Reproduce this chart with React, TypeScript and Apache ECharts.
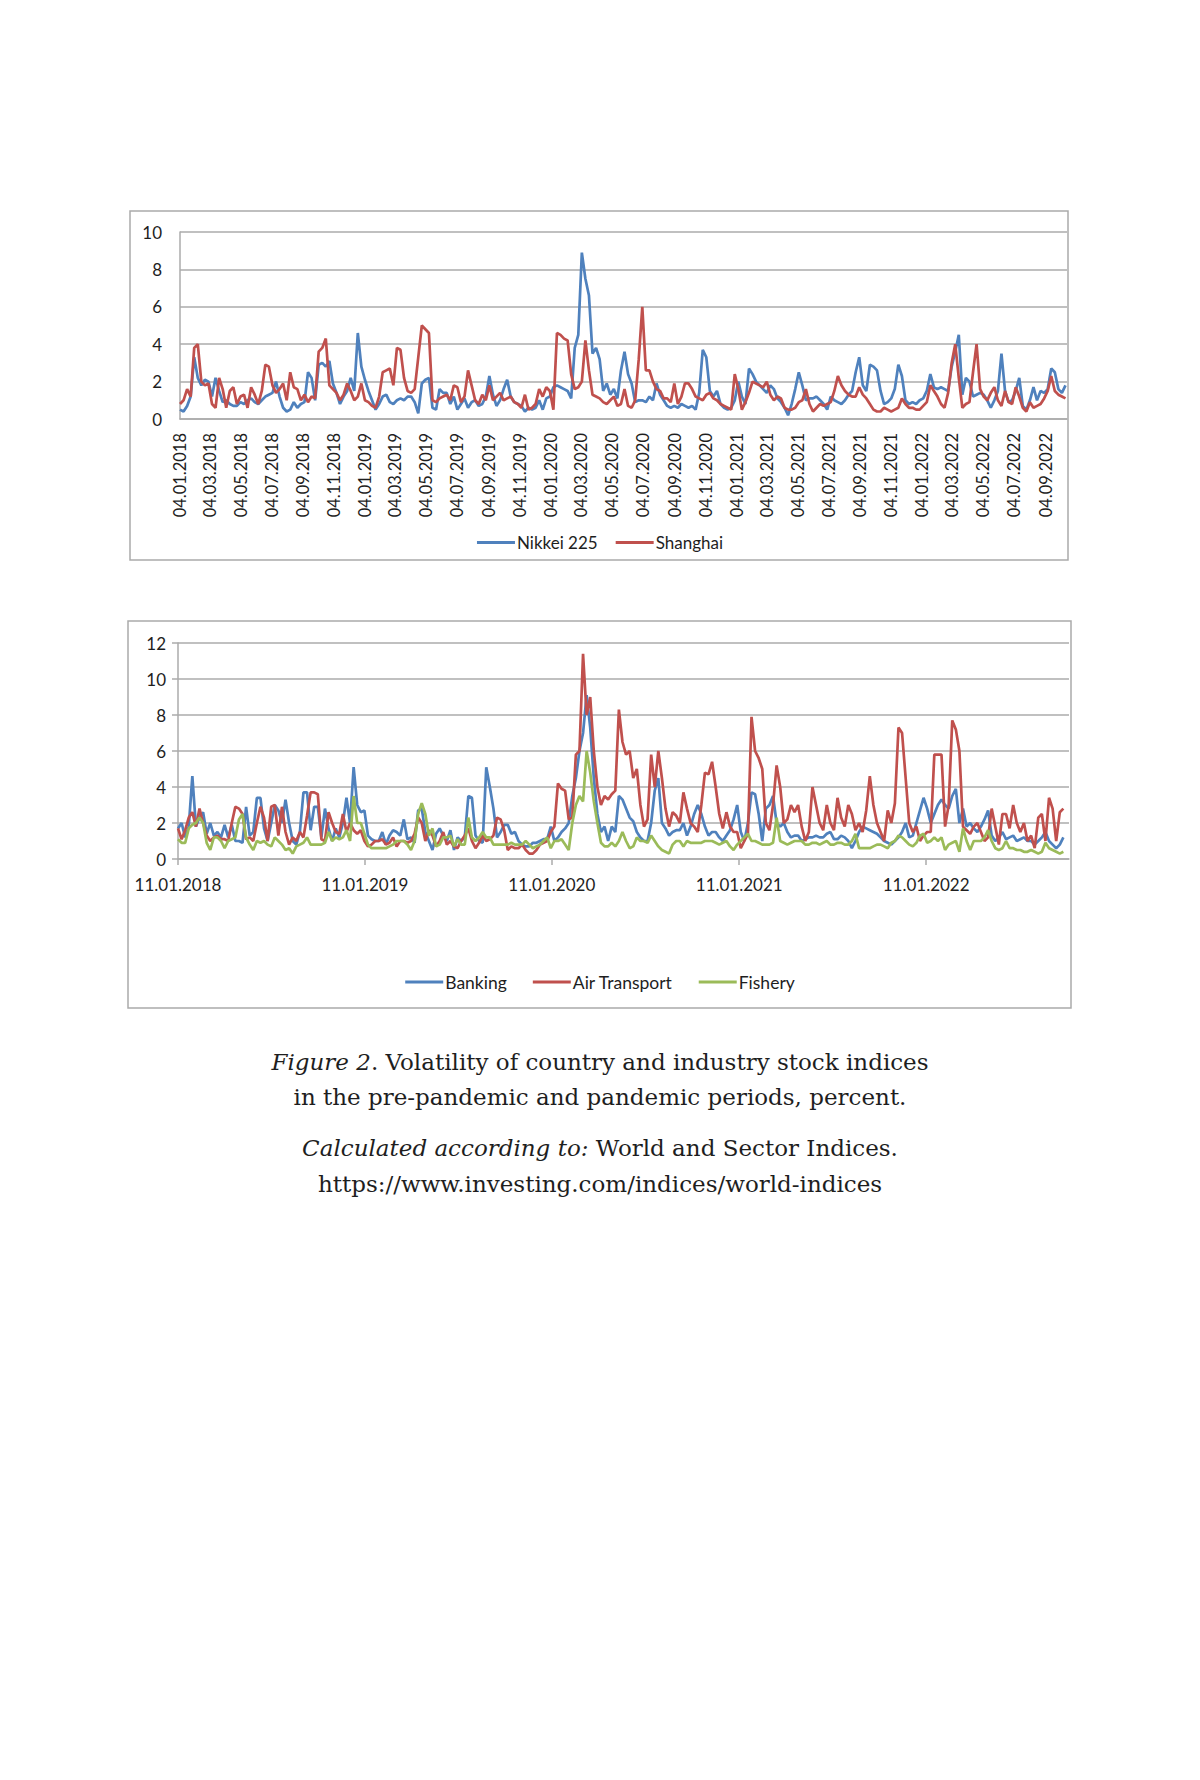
import React, { useEffect, useRef } from "react";
import * as echarts from "echarts";

// ---------- DATA ----------
const topStartDate = "04.01.2018"; // weekly observations
const bottomStartDate = "11.01.2018"; // weekly observations

const topTickLabels = [
  "04.01.2018", "04.03.2018", "04.05.2018", "04.07.2018", "04.09.2018", "04.11.2018",
  "04.01.2019", "04.03.2019", "04.05.2019", "04.07.2019", "04.09.2019", "04.11.2019",
  "04.01.2020", "04.03.2020", "04.05.2020", "04.07.2020", "04.09.2020", "04.11.2020",
  "04.01.2021", "04.03.2021", "04.05.2021", "04.07.2021", "04.09.2021", "04.11.2021",
  "04.01.2022", "04.03.2022", "04.05.2022", "04.07.2022", "04.09.2022",
];
const bottomTickLabels = ["11.01.2018", "11.01.2019", "11.01.2020", "11.01.2021", "11.01.2022"];

const nikkei225 = [
  0.5, 0.4, 0.7, 1.2, 3.3, 2.2, 1.8, 2.1, 2.0, 1.2,
  2.2, 1.5, 0.9, 1.0, 0.8, 0.7, 0.7, 0.9, 0.8, 1.0,
  1.1, 0.9, 0.8, 1.0, 1.2, 1.3, 1.4, 2.0, 1.2, 0.6,
  0.4, 0.5, 0.9, 0.6, 0.8, 0.9, 2.5, 2.2, 1.0, 2.9,
  3.0, 2.8, 3.1, 1.9, 1.4, 0.8, 1.2, 1.5, 2.2, 1.5,
  4.6, 2.8, 2.1, 1.5, 1.0, 0.5, 0.8, 1.2, 1.3, 0.9,
  0.8, 1.0, 1.1, 1.0, 1.2, 1.2, 0.9, 0.3, 1.9, 2.1,
  2.2, 0.6, 0.5, 1.6, 1.4, 1.4, 0.8, 1.2, 0.5, 0.8,
  1.1, 0.6, 0.9, 1.0, 0.7, 0.8, 1.2, 2.3, 1.3, 0.7,
  1.0, 1.6, 2.1, 1.2, 0.9, 0.8, 0.7, 0.4, 0.6, 0.5,
  0.6, 1.0, 0.5, 1.1, 1.2, 1.7, 1.8, 1.7, 1.6, 1.5,
  1.1, 3.8, 4.5, 8.9, 7.5, 6.6, 3.5, 3.8, 3.2, 1.5,
  1.9, 1.3, 1.6, 1.1, 2.6, 3.6, 2.4, 1.9, 0.9, 1.0,
  1.0, 0.9, 1.2, 1.0, 1.9, 1.3, 1.0, 0.7, 0.6, 0.7,
  0.6, 0.8, 0.7, 0.6, 0.7, 0.5, 1.4, 3.7, 3.3, 1.5,
  1.2, 1.5, 0.8, 0.6, 0.5, 0.6, 1.0, 2.0, 1.2, 0.8,
  2.7, 2.4, 2.0, 1.8, 1.6, 1.4, 1.8, 1.6, 1.1, 0.9,
  0.6, 0.2, 0.8, 1.6, 2.5, 1.8, 1.0, 1.1, 1.1, 1.2,
  1.0, 0.8, 0.5, 1.2, 1.0, 0.9, 0.8, 1.0, 1.3, 1.5,
  2.5, 3.3, 1.8, 1.5, 2.9, 2.8, 2.6, 1.5, 0.8, 0.9,
  1.1, 1.6, 2.9, 2.3, 1.0, 0.8, 0.9, 0.8, 1.0, 1.1,
  1.5, 2.4, 1.7, 1.6, 1.7, 1.6, 1.5, 2.8, 3.6, 4.5,
  1.3, 2.2, 2.0, 1.2, 1.3, 1.4, 1.3, 1.0, 0.6, 1.0,
  1.5, 3.5, 1.5, 0.9, 1.0, 1.5, 2.2, 0.7, 0.5, 1.0,
  1.7, 1.0, 1.5, 1.4, 1.6, 2.7, 2.5, 1.6, 1.4, 1.8,
];

const shanghai = [
  0.8, 1.0, 1.6, 1.2, 3.8, 4.0, 2.0, 1.8, 1.9, 0.8,
  0.6, 2.2, 1.6, 0.6, 1.5, 1.7, 0.8, 1.2, 1.3, 0.6,
  1.7, 1.3, 0.8, 1.5, 2.9, 2.8, 1.8, 1.4, 1.6, 1.9,
  1.0, 2.5, 1.7, 1.6, 1.0, 1.3, 0.9, 1.2, 1.1, 3.6,
  3.8, 4.3, 1.8, 1.6, 1.4, 1.0, 1.3, 1.9, 1.5, 1.0,
  1.2, 1.9, 1.0, 0.9, 0.7, 0.6, 1.2, 2.5, 2.6, 2.7,
  1.8, 3.8, 3.7, 2.2, 1.5, 1.4, 1.6, 3.3, 5.0, 4.8,
  4.6, 1.0, 0.9, 1.1, 1.2, 1.3, 1.0, 1.8, 1.7, 0.9,
  1.2, 2.6, 1.8, 1.0, 0.8, 1.3, 1.0, 1.8, 1.0, 1.2,
  1.4, 1.0, 1.1, 1.2, 0.9, 0.8, 0.6, 1.3, 0.5, 0.6,
  0.8, 1.6, 1.2, 1.7, 1.5, 0.5, 4.6, 4.5, 4.3, 4.2,
  2.4, 1.6, 1.7, 2.0, 4.2, 2.6, 1.3, 1.2, 1.1, 0.9,
  0.8, 1.0, 1.2, 0.7, 0.8, 1.6, 0.7, 0.6, 1.0, 3.2,
  6.0, 2.6, 2.6, 2.0, 1.6, 1.5, 1.1, 1.1, 0.9, 1.9,
  0.8, 1.2, 1.9, 1.9, 1.6, 1.2, 1.1, 1.0, 1.3, 1.4,
  1.1, 1.0, 0.8, 0.7, 0.6, 0.5, 2.4, 1.6, 0.5, 0.9,
  1.4, 2.0, 1.9, 1.8, 1.7, 2.0, 1.3, 1.0, 1.2, 1.1,
  0.6, 0.5, 0.5, 0.6, 0.9, 1.0, 1.6, 0.8, 0.4, 0.6,
  0.8, 0.7, 0.8, 0.9, 1.5, 2.3, 1.8, 1.5, 1.3, 1.2,
  1.2, 1.7, 1.3, 1.1, 0.8, 0.5, 0.4, 0.4, 0.6, 0.5,
  0.4, 0.5, 0.6, 1.1, 0.8, 0.6, 0.6, 0.5, 0.5, 0.7,
  0.9, 1.8, 1.5, 1.2, 0.8, 0.6, 1.4, 3.0, 4.0, 2.2,
  0.6, 0.8, 0.9, 2.5, 4.0, 1.6, 1.2, 1.0, 1.4, 1.7,
  1.0, 0.7, 1.5, 0.9, 0.8, 1.7, 1.2, 0.6, 0.4, 0.9,
  0.6, 0.7, 0.8, 1.1, 1.5, 2.3, 1.5, 1.3, 1.2, 1.1,
];

const banking = [
  1.7, 2.0, 1.2, 1.8, 4.6, 1.8, 2.3, 2.6, 1.4, 2.0,
  1.3, 1.5, 1.2, 1.9, 1.2, 1.9, 1.0, 1.0, 0.9, 2.9,
  1.3, 1.5, 3.4, 3.4, 1.7, 1.0, 2.0, 3.0, 2.7, 2.0,
  3.3, 2.0, 1.0, 0.8, 1.5, 3.7, 3.7, 1.6, 2.9, 2.9,
  1.2, 2.8, 1.7, 1.0, 1.7, 1.2, 2.0, 3.4, 2.0, 5.1,
  3.0, 2.6, 2.7, 1.3, 1.1, 1.0, 1.0, 1.5, 0.8, 1.3,
  1.6, 1.5, 1.3, 2.2, 1.1, 1.2, 0.9, 2.7, 2.8, 1.5,
  1.0, 0.5, 1.4, 1.7, 1.3, 1.0, 1.6, 0.5, 1.2, 1.0,
  1.2, 3.5, 3.4, 1.3, 1.0, 0.9, 5.1, 4.0, 2.8, 1.2,
  1.5, 1.9, 1.9, 1.4, 1.5, 1.0, 0.8, 0.7, 0.7, 0.9,
  0.9, 1.0, 1.1, 1.1, 1.8, 1.0, 1.2, 1.5, 1.7, 2.0,
  3.5, 4.5, 6.0, 7.0, 9.1, 7.3, 4.5, 2.5, 1.5, 1.8,
  1.0, 1.8, 1.5, 3.5, 3.3, 2.8, 2.3, 2.1, 1.5, 1.2,
  1.0, 1.0, 2.0, 3.8, 4.5, 2.0, 1.7, 1.3, 1.5, 1.6,
  1.6, 2.0, 1.3, 1.8, 2.5, 3.0, 2.5, 1.8, 1.3, 1.5,
  1.5, 1.2, 1.0, 1.3, 1.6, 2.2, 3.0, 1.5, 1.0, 2.0,
  3.7, 3.6, 2.5, 1.0, 2.8, 3.0, 3.5, 2.0, 1.8, 2.0,
  1.5, 1.2, 1.3, 1.3, 1.0, 1.1, 1.2, 1.2, 1.3, 1.2,
  1.2, 1.4, 1.5, 1.1, 1.1, 1.3, 1.2, 1.0, 0.6, 1.0,
  1.5, 1.8, 1.7, 1.6, 1.5, 1.4, 1.2, 1.0, 0.9, 0.8,
  1.0, 1.2, 1.5, 2.0, 1.2, 1.3, 2.0, 2.7, 3.4, 2.8,
  2.0, 2.5, 3.0, 3.3, 3.0, 2.8, 3.5, 3.9, 2.0, 2.8,
  1.8, 2.0, 1.7, 1.5, 1.8, 2.2, 2.7, 1.3, 1.0, 1.2,
  1.5, 1.1, 1.2, 1.3, 1.0, 1.1, 1.2, 1.0, 1.0, 0.8,
  1.0, 1.2, 1.5, 1.0, 0.8, 0.6, 0.8, 1.2,
];

const airTransport = [
  1.7, 1.1, 1.6, 2.3, 2.6, 1.8, 2.8, 2.0, 1.3, 1.0,
  1.2, 1.3, 1.1, 1.1, 1.0, 2.0, 2.9, 2.8, 2.5, 1.1,
  1.2, 1.0, 2.0, 2.9, 2.3, 1.0, 2.9, 3.0, 1.3, 2.9,
  1.5, 0.8, 1.2, 1.0, 1.5, 1.2, 2.4, 3.7, 3.7, 3.6,
  1.1, 1.0, 2.6, 2.0, 1.5, 1.4, 2.5, 1.5, 2.0, 1.6,
  1.4, 1.6, 1.0, 0.7, 0.8, 1.0, 1.0, 1.1, 0.8, 0.9,
  1.2, 0.7, 1.0, 1.0, 0.9, 1.0, 1.4, 2.3, 2.0, 1.0,
  1.6, 1.3, 0.7, 1.0, 1.5, 0.8, 1.0, 0.7, 0.6, 1.0,
  1.3, 1.7, 1.0, 0.6, 0.9, 1.3, 1.0, 1.1, 1.3, 2.3,
  2.2, 1.6, 0.5, 0.7, 0.6, 0.6, 0.8, 0.5, 0.3, 0.3,
  0.5, 0.8, 0.9, 1.0, 1.5, 1.8, 4.2, 3.9, 3.8, 2.2,
  2.3, 5.8, 6.0, 11.4, 8.0, 9.0, 6.0, 4.0, 3.0, 3.5,
  3.3, 3.6, 3.8, 8.3, 6.5, 5.8, 6.0, 4.5, 5.0, 3.0,
  1.8, 2.2, 5.8, 4.0, 6.0, 4.5, 2.8, 1.8, 2.6, 2.4,
  2.0, 3.7, 2.8, 2.0, 1.8, 1.5, 3.0, 4.8, 4.7, 5.4,
  4.0, 2.5, 1.7, 2.6, 1.8, 1.5, 1.5, 0.6, 1.0, 1.4,
  7.9, 6.0, 5.6, 5.0, 2.0, 1.6, 3.0, 5.2, 4.0, 2.0,
  2.2, 3.0, 2.6, 3.0, 1.8, 1.0, 1.5, 4.0, 3.0, 2.0,
  1.6, 3.0, 2.0, 1.6, 3.4, 2.3, 1.8, 3.0, 2.5, 1.6,
  2.0, 1.5, 2.7, 4.6, 3.0, 2.0, 1.5, 1.0, 2.7, 2.0,
  3.1, 7.3, 7.0, 4.5, 2.0, 1.5, 1.8, 1.0, 1.3, 1.5,
  1.5, 5.8, 5.8, 5.8, 1.8, 3.0, 7.7, 7.2, 6.0, 1.8,
  1.6, 1.4, 1.8, 2.0, 1.5, 1.0, 1.2, 2.8, 1.8, 0.8,
  2.5, 2.5, 1.7, 3.0, 2.0, 1.5, 2.0, 1.0, 1.3, 0.6,
  2.3, 2.5, 1.0, 3.4, 2.8, 1.0, 2.6, 2.8,
];

const fishery = [
  1.1, 0.9, 0.9, 1.7, 1.9, 2.0, 2.3, 2.0, 0.9, 0.5,
  1.2, 1.2, 1.0, 0.6, 1.0, 1.1, 1.2, 2.2, 2.5, 1.2,
  0.8, 0.5, 1.0, 0.9, 1.0, 0.8, 0.7, 1.2, 1.0, 0.8,
  0.5, 0.6, 0.3, 0.7, 0.8, 0.9, 1.2, 0.8, 0.8, 0.8,
  0.8, 0.9, 1.5, 1.0, 1.2, 1.1, 1.2, 1.6, 1.0, 3.5,
  2.0, 2.0, 1.4, 0.8, 0.6, 0.6, 0.6, 0.6, 0.6, 0.7,
  0.8, 1.0, 1.0, 1.0, 0.8, 0.5, 1.0, 2.5, 3.1, 2.5,
  1.3, 1.7, 0.7, 0.8, 1.2, 1.2, 1.3, 0.7, 1.1, 0.8,
  0.8, 2.3, 1.2, 1.0, 1.2, 1.5, 1.2, 1.2, 0.8, 0.8,
  0.8, 0.8, 0.8, 0.9, 0.8, 0.8, 0.8, 1.0, 0.8, 0.6,
  0.7, 0.8, 1.0, 1.2, 0.6, 1.0, 1.0, 1.1, 0.8, 0.5,
  2.0, 3.0, 3.5, 3.2, 6.0, 4.8, 3.2, 2.0, 0.9, 0.7,
  0.7, 0.9, 0.7, 1.0, 1.5, 1.0, 0.6, 0.7, 1.2, 1.0,
  1.0, 0.9, 1.3, 1.0, 0.7, 0.5, 0.4, 0.3, 0.8, 1.0,
  1.0, 0.7, 1.0, 0.9, 0.9, 0.9, 0.9, 1.0, 1.0, 1.0,
  0.9, 0.8, 0.9, 1.0, 0.7, 0.5, 0.8, 1.0, 1.2, 1.4,
  1.0, 1.0, 0.9, 0.8, 0.8, 0.8, 0.9, 2.3, 1.0, 0.9,
  0.8, 0.9, 1.0, 1.0, 1.0, 0.8, 0.8, 0.9, 0.9, 0.8,
  0.9, 1.0, 0.8, 0.8, 0.9, 0.9, 0.8, 0.8, 1.0, 1.4,
  0.6, 0.6, 0.6, 0.6, 0.7, 0.8, 0.8, 0.7, 0.6, 0.9,
  1.0, 1.3, 1.2, 1.0, 0.8, 0.7, 0.9, 1.3, 1.4, 0.9,
  1.0, 1.2, 1.0, 1.2, 0.5, 0.8, 0.9, 1.0, 0.4, 1.7,
  1.0, 0.5, 1.0, 1.0, 1.0, 1.2, 1.6, 1.0, 0.6, 0.5,
  0.6, 1.0, 0.6, 0.6, 0.5, 0.5, 0.4, 0.4, 0.5, 0.4,
  0.3, 0.4, 0.9, 0.6, 0.5, 0.4, 0.3, 0.4,
];

// ---------- helpers ----------
const DAY = 86400000;
const parseDate = (s: string) => {
  const [d, m, y] = s.split(".").map(Number);
  return Date.UTC(y, m - 1, d);
};
const dayOffset = (s: string, start: string) => Math.round((parseDate(s) - parseDate(start)) / DAY);
const weekly = (arr: number[]) => arr.map((v, i) => [i * 7, v]);

const topTickDays = topTickLabels.map((s) => dayOffset(s, topStartDate));
const bottomTickDays = bottomTickLabels.map((s) => dayOffset(s, bottomStartDate));
const labelFor = (days: number[], labels: string[]) => (v: number) => {
  const k = days.indexOf(Math.round(v));
  return k >= 0 ? labels[k] : "";
};

const BLUE = "#4F81BD";
const RED = "#C0504D";
const GREEN = "#9BBB59";
const GRID = "#ABABAB";
const TXT = "#1E1E1E";
const FONT = "Lato";
const SERIF = "DejaVu Serif";
const CAP = 23;

export default function App() {
  const ref = useRef<HTMLDivElement>(null);
  useEffect(() => {
    if (!ref.current) return;
    const chart = echarts.init(ref.current, null, { renderer: "svg", width: 1200, height: 1780 });
    const lineSeries = (name: string, data: number[], color: string, idx: number) => ({
      name,
      type: "line",
      xAxisIndex: idx,
      yAxisIndex: idx,
      data: weekly(data),
      showSymbol: false,
      symbol: "none",
      lineStyle: { color, width: 2.7 },
      itemStyle: { color },
    });
    const axisLineStyle = { color: GRID, width: 1.5 };
    const capStyle = (text: string, y: number) => ({
      type: "text",
      x: 600,
      y,
      style: {
        text,
        rich: { i: { fontStyle: "italic", fontFamily: SERIF, fontSize: CAP, fill: TXT } },
        fontFamily: SERIF,
        fontSize: CAP,
        fill: TXT,
        textAlign: "center",
        textVerticalAlign: "middle",
      },
    });
    chart.setOption({
      animation: false,
      backgroundColor: "#ffffff",
      textStyle: { fontFamily: FONT },
      grid: [
        { left: 180, top: 232, width: 887, height: 187 },
        { left: 178, top: 643, width: 891, height: 216 },
      ],
      xAxis: [
        {
          gridIndex: 0,
          type: "value",
          min: 0,
          max: 1746,
          axisLine: { show: true, onZero: false, lineStyle: axisLineStyle },
          axisTick: { show: false },
          splitLine: { show: false },
          axisLabel: {
            customValues: topTickDays,
            formatter: labelFor(topTickDays, topTickLabels),
            rotate: 90,
            fontSize: 16.5,
            fontFamily: FONT,
            color: TXT,
            margin: 14,
          },
        },
        {
          gridIndex: 1,
          type: "value",
          min: 0,
          max: 1740,
          axisLine: { show: true, onZero: false, lineStyle: axisLineStyle },
          axisTick: { show: true, customValues: bottomTickDays, length: 6, lineStyle: axisLineStyle },
          splitLine: { show: false },
          axisLabel: {
            customValues: bottomTickDays,
            formatter: labelFor(bottomTickDays, bottomTickLabels),
            fontSize: 17,
            fontFamily: FONT,
            color: TXT,
            margin: 17,
          },
        },
      ],
      yAxis: [
        {
          gridIndex: 0,
          type: "value",
          min: 0,
          max: 10,
          interval: 2,
          axisLine: { show: true, lineStyle: axisLineStyle },
          axisTick: { show: false },
          splitLine: { show: true, lineStyle: axisLineStyle },
          axisLabel: { fontSize: 17, fontFamily: FONT, color: TXT, margin: 18 },
        },
        {
          gridIndex: 1,
          type: "value",
          min: 0,
          max: 12,
          interval: 2,
          axisLine: { show: true, lineStyle: axisLineStyle },
          axisTick: { show: true, length: 6, lineStyle: axisLineStyle },
          splitLine: { show: true, lineStyle: axisLineStyle },
          axisLabel: { fontSize: 17, fontFamily: FONT, color: TXT, margin: 12 },
        },
      ],
      legend: [
        {
          data: ["Nikkei 225", "Shanghai"],
          left: "center",
          top: 529,
          icon: "rect",
          itemWidth: 38,
          itemHeight: 3,
          itemGap: 18,
          textStyle: { fontSize: 17, fontFamily: FONT, color: TXT, padding: [0, 0, 0, -3] },
        },
        {
          data: ["Banking", "Air Transport", "Fishery"],
          left: "center",
          top: 968,
          icon: "rect",
          itemWidth: 38,
          itemHeight: 3,
          itemGap: 26,
          textStyle: { fontSize: 17.5, fontFamily: FONT, color: TXT, padding: [0, 0, 0, -3] },
        },
      ],
      graphic: [
        {
          type: "rect",
          silent: true,
          shape: { x: 130, y: 211, width: 938, height: 349 },
          style: { fill: "none", stroke: GRID, lineWidth: 1.5 },
        },
        {
          type: "rect",
          silent: true,
          shape: { x: 128, y: 621, width: 943, height: 387 },
          style: { fill: "none", stroke: GRID, lineWidth: 1.5 },
        },
        capStyle("{i|Figure 2}. Volatility of country and industry stock indices", 1062),
        capStyle("in the pre-pandemic and pandemic periods, percent.", 1097),
        capStyle("{i|Calculated according to:} World and Sector Indices.", 1148),
        capStyle("https://www.investing.com/indices/world-indices", 1184),
      ],
      series: [
        lineSeries("Nikkei 225", nikkei225, BLUE, 0),
        lineSeries("Shanghai", shanghai, RED, 0),
        lineSeries("Banking", banking, BLUE, 1),
        lineSeries("Air Transport", airTransport, RED, 1),
        lineSeries("Fishery", fishery, GREEN, 1),
      ],
    });
    return () => chart.dispose();
  }, []);
  return (
    <div
      ref={ref}
      style={{ position: "absolute", left: 0, top: 0, width: 1200, height: 1780, background: "#ffffff" }}
    />
  );
}
